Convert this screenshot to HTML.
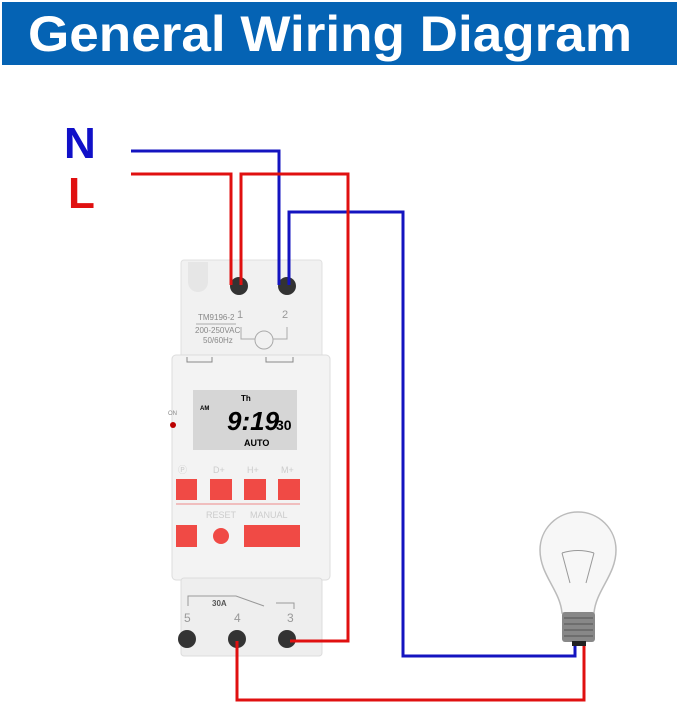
<!DOCTYPE html>
<html><head><style>
html,body{margin:0;padding:0;background:#fff;}
svg{display:block;}
text{font-family:"Liberation Sans",sans-serif;}
</style></head><body>
<svg width="679" height="715" viewBox="0 0 679 715">
<rect x="2" y="2" width="675" height="63" fill="#0563b4"/>
<text x="28" y="51" font-size="50" font-weight="bold" fill="#fff" textLength="604" lengthAdjust="spacingAndGlyphs">General Wiring Diagram</text>
<text x="64" y="158" font-size="44" fill="#1010c8" font-weight="bold">N</text>
<text x="68" y="208" font-size="44" fill="#e01010" font-weight="bold">L</text>
<!-- device -->
<rect x="181" y="260" width="141" height="100" rx="3" fill="#f1f1f1" stroke="#e0e0e0"/>
<path d="M188 262 v20 a10 10 0 0 0 20 0 v-20" fill="#e6e6e6"/>
<rect x="172" y="355" width="158" height="225" rx="4" fill="#f3f3f3" stroke="#dcdcdc"/>
<rect x="181" y="578" width="141" height="78" rx="3" fill="#eeeeee" stroke="#dcdcdc"/>
<text x="198" y="320" font-size="8" fill="#888">TM9196-2</text>
<line x1="196" y1="324" x2="236" y2="324" stroke="#aaa"/>
<text x="195" y="333" font-size="8" fill="#888">200-250VAC</text>
<text x="203" y="343" font-size="8" fill="#888">50/60Hz</text>
<text x="237" y="318" font-size="11" fill="#999">1</text>
<text x="282" y="318" font-size="11" fill="#999">2</text>
<path d="M241 327 v12 h14 M273 339 h14 v-12" fill="none" stroke="#aaa"/>
<circle cx="264" cy="340" r="9" fill="none" stroke="#aaa"/>
<path d="M187 357 v5 h25 v-5 M266 357 v5 h27 v-5" fill="none" stroke="#888"/>
<rect x="193" y="390" width="104" height="60" fill="#d6d6d6"/>
<text x="241" y="401" font-size="8" font-weight="bold">Th</text>
<text x="200" y="410" font-size="6" font-weight="bold">AM</text>
<text x="227" y="430" font-size="26" font-weight="bold" font-style="italic">9:19</text>
<text x="276" y="430" font-size="14" font-weight="bold">30</text>
<text x="244" y="446" font-size="9" font-weight="bold">AUTO</text>
<text x="168" y="415" font-size="6" fill="#888">ON</text>
<circle cx="173" cy="425" r="3" fill="#b00"/>
<g font-size="9" fill="#ccc"><text x="178" y="473">Ⓟ</text><text x="213" y="473">D+</text><text x="247" y="473">H+</text><text x="281" y="473">M+</text><text x="206" y="518">RESET</text><text x="250" y="518">MANUAL</text></g>
<g fill="#f04a45"><rect x="176" y="479" width="21" height="21"/><rect x="210" y="479" width="22" height="21"/><rect x="244" y="479" width="22" height="21"/><rect x="278" y="479" width="22" height="21"/>
<rect x="176" y="525" width="21" height="22"/><circle cx="221" cy="536" r="8"/><rect x="244" y="525" width="56" height="22"/></g>
<line x1="176" y1="504" x2="300" y2="504" stroke="#e88" stroke-width="1"/>
<path d="M188 606 v-10 h48 l28 10 M276 603 h18 v6" fill="none" stroke="#999"/>
<text x="212" y="606" font-size="8" font-weight="bold" fill="#555">30A</text>
<g font-size="12" fill="#999"><text x="184" y="622">5</text><text x="234" y="622">4</text><text x="287" y="622">3</text></g>
<g fill="#333"><circle cx="187" cy="639" r="9"/><circle cx="237" cy="639" r="9"/><circle cx="287" cy="639" r="9"/><circle cx="239" cy="286" r="9"/><circle cx="287" cy="286" r="9"/></g>
<!-- wires -->
<g fill="none" stroke-width="3">
<path d="M131 151 H279 V285" stroke="#1414c0"/>
<path d="M289 285 V212 H403 V656 H575 V644" stroke="#1414c0"/>
<path d="M131 174 H231 V285" stroke="#e01010"/>
<path d="M241 285 V174 H348 V641 H290" stroke="#e01010"/>
<path d="M237 641 V700 H584 V644" stroke="#e01010"/>
</g>
<!-- bulb -->
<path d="M562 613 C560 590 540 575 540 550 A38 38 0 0 1 616 550 C616 575 596 590 594 613 Z" fill="#f7f7f7" stroke="#bbb" stroke-width="1.5"/>
<path d="M562 553 L570 583 M594 553 L586 583 M562 553 Q578 548 594 553" fill="none" stroke="#999"/>
<rect x="562" y="612" width="33" height="30" rx="3" fill="#888"/>
<path d="M564 618 h29 M564 624 h29 M564 630 h29 M564 636 h29" stroke="#555"/>
<rect x="572" y="641" width="14" height="5" fill="#222"/>
</svg>
</body></html>
